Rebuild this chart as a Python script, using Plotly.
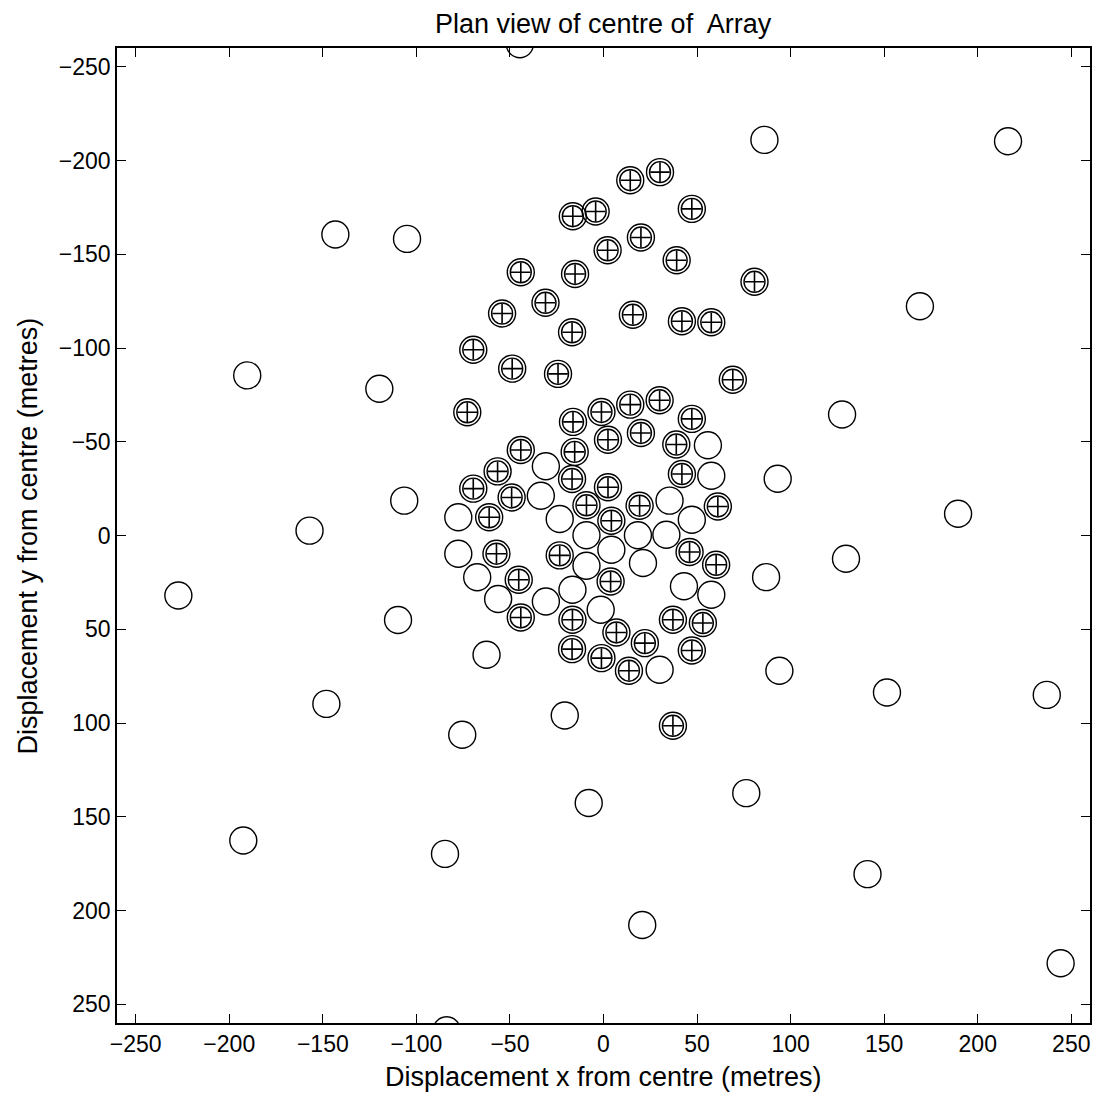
import plotly.graph_objects as go

# Single (open) circles: outer array positions (metres)
open_x = [-143.3, -105.0, -190.4, -119.8, -44.7, 86.0, 216.2, 169.1, 127.5, 93.1,
          189.5, 129.6, 86.9, 94.0, 151.5, 236.9, -106.5, -157.1, -227.2, -109.8,
          -148.1, -192.5, -84.7, -83.8, -75.5, -20.7, -7.9, 76.3, 20.7, 141.1,
          244.3, -62.5, 30.0,
          55.8, 57.6, 35.3, 47.2, -30.8, -33.5, -23.4, -77.6, -77.6, -9.1,
          18.4, 33.6, 4.2, -9.1, 21.1, -67.5, -56.3, -30.8, -16.6, -1.5,
          43.0, 57.6]
open_y = [-160.5, -158.2, -85.4, -78.3, -262.0, -211.0, -210.3, -122.3, -64.5, -30.3,
          -11.6, 12.4, 22.2, 72.1, 83.7, 85.0, -18.6, -2.6, 32.0, 45.1,
          89.8, 162.7, 169.8, 263.9, 106.3, 96.0, 142.7, 137.4, 207.7, 180.6,
          228.1, 63.6, 71.6,
          -48.1, -31.9, -18.6, -8.4, -36.9, -21.2, -8.8, -9.7, 9.7, -0.1,
          -0.1, -0.4, 7.6, 16.1, 14.7, 22.3, 33.9, 35.2, 28.9, 39.6,
          27.1, 31.6]

# Double circles with cross
array_x = [14.3, 30.2, -16.4, -4.2, 47.2, 20.0, 2.2, 39.1, 80.7, -44.2,
           -15.2, -31.0, -54.2, -16.8, 15.7, 41.9, 57.6, -69.6, -48.8, -24.3,
           69.1,
           -72.8, -16.3, -1.1, 14.3, 30.0, 47.2, 2.4, 20.0, 38.9, -15.4,
           -44.2, -56.6, -69.6, -49.1, -16.8, 2.4, 41.9, 61.1, 19.3, -9.1,
           4.2, -61.1, -57.2, -23.4, 46.0, 60.2, -45.3, 3.8, -44.2, -16.6,
           37.1, 53.1, 6.9, 22.1, -16.8, -1.1, 13.6, 47.2, 37.1]
array_y = [-189.5, -193.8, -170.3, -172.8, -174.2, -158.9, -152.1, -146.8, -135.3, -140.4,
           -139.5, -124.1, -118.4, -108.4, -117.7, -114.3, -113.7, -99.1, -89.0, -86.2,
           -83.1,
           -65.7, -60.6, -65.9, -69.8, -72.1, -62.2, -51.1, -54.7, -48.5, -44.6,
           -45.6, -34.2, -25.0, -20.3, -30.1, -25.7, -32.8, -15.5, -15.9, -16.1,
           -7.9, -9.7, 9.7, 10.6, 8.8, 15.6, 23.6, 24.5, 43.7, 44.9,
           44.9, 46.7, 51.7, 57.4, 60.6, 65.4, 72.1, 61.3, 101.5]

tick_vals = [-250, -200, -150, -100, -50, 0, 50, 100, 150, 200, 250]

FONT = "Liberation Sans, Arial, Helvetica, sans-serif"
LINE = dict(color="black", width=1.4)
TICK_SIZE = 23
TITLE_SIZE = 27

fig = go.Figure()
fig.add_trace(go.Scatter(x=open_x, y=open_y, mode="markers", hoverinfo="skip",
                         marker=dict(symbol="circle-open", size=27, color="black", line=LINE)))
fig.add_trace(go.Scatter(x=array_x, y=array_y, mode="markers", hoverinfo="skip",
                         marker=dict(symbol="circle-open", size=27, color="black", line=LINE)))
fig.add_trace(go.Scatter(x=array_x, y=array_y, mode="markers", hoverinfo="skip",
                         marker=dict(symbol="circle-open", size=21, color="black", line=LINE)))
fig.add_trace(go.Scatter(x=array_x, y=array_y, mode="markers", hoverinfo="skip",
                         marker=dict(symbol="cross-thin-open", size=14, color="black",
                                     line=dict(color="black", width=1.6))))

axis_common = dict(
    tickvals=tick_vals, ticks="inside", ticklen=9, tickwidth=1, tickcolor="black",
    showline=True, linecolor="black", linewidth=1.5, mirror="ticks",
    showgrid=False, zeroline=False, automargin=False,
    tickfont=dict(family=FONT, size=TICK_SIZE, color="black"),
)

fig.update_xaxes(range=[-260, 260], **axis_common)
fig.update_yaxes(range=[260, -260], **axis_common)

# page body has an 8px margin, so the figure is offset accordingly
fig.update_layout(
    width=1093, height=1093,
    margin=dict(l=109, r=11, t=40, b=78, autoexpand=False),
    paper_bgcolor="white", plot_bgcolor="white",
    showlegend=False,
    annotations=[
        dict(text="Plan view of centre of  Array", xref="paper", yref="paper",
             x=0.5, y=1.0246, xanchor="center", yanchor="middle", showarrow=False,
             font=dict(family=FONT, size=TITLE_SIZE, color="black")),
        dict(text="Displacement x from centre (metres)", xref="paper", yref="paper",
             x=0.5, y=-0.0554, xanchor="center", yanchor="middle", showarrow=False,
             font=dict(family=FONT, size=TITLE_SIZE, color="black")),
        dict(text="Displacement y from centre (metres)", xref="paper", yref="paper",
             x=-0.0915, y=0.5, xanchor="center", yanchor="middle", showarrow=False,
             textangle=-90,
             font=dict(family=FONT, size=TITLE_SIZE, color="black")),
    ],
)

fig.write_html("out.html")
